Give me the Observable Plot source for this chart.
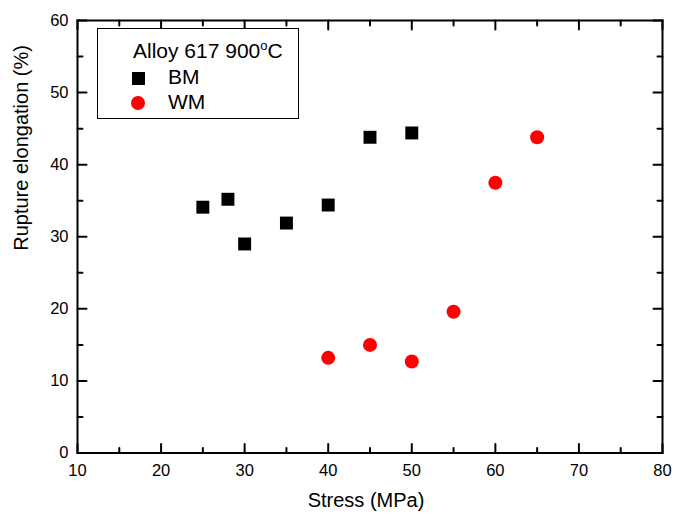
<!DOCTYPE html>
<html>
<head>
<meta charset="utf-8">
<script src="https://cdn.jsdelivr.net/npm/d3@7"></script>
<script src="https://cdn.jsdelivr.net/npm/@observablehq/plot@0.6"></script>
<style>
  body { margin: 0; background: #fff; }
  #wrap { position: relative; width: 681px; height: 514px; font-family: "Liberation Sans", Arial, sans-serif; }
  #legend { position: absolute; left: 97px; top: 28px; width: 202px; height: 91px; box-sizing: border-box; border: 1.5px solid #000; background: #fff; }
  #legend div { position: absolute; white-space: nowrap; line-height: 1; color: #000; }
</style>
</head>
<body>
<div id="wrap"></div>
<script>
const bmStress = [25, 28, 30, 35, 40, 45, 50];
const bmElong = [34.1, 35.2, 29.0, 31.9, 34.4, 43.8, 44.4];
const wmStress = [40, 45, 50, 55, 60, 65];
const wmElong = [13.2, 15.0, 12.7, 19.6, 37.5, 43.8];
const xMajor = [10, 20, 30, 40, 50, 60, 70, 80];
const xMinor = [15, 25, 35, 45, 55, 65, 75];
const yMajor = [0, 10, 20, 30, 40, 50, 60];
const yMinor = [5, 15, 25, 35, 45, 55];
const xLabel = ["Stress (MPa)"];
const yLabel = ["Rupture elongation (%)"];
const legendTitle = "Alloy 617 900";
const seriesNames = ["BM", "WM"];

const bm = bmStress.map((s, i) => ({stress: s, elong: bmElong[i]}));
const wm = wmStress.map((s, i) => ({stress: s, elong: wmElong[i]}));

const lineShape = {draw(context, l) { context.moveTo(0, 0); context.lineTo(0, -l); }};
const tickStyle = {stroke: "#000", strokeWidth: 2, anchor: "start", shape: lineShape};

const chart = Plot.plot({
  width: 681,
  height: 514,
  marginLeft: 77,
  marginRight: 19,
  marginTop: 20,
  marginBottom: 61.5,
  style: {fontFamily: "Liberation Sans, Arial, sans-serif", background: "#fff", color: "#000"},
  x: {domain: [10, 80]},
  y: {domain: [0, 60]},
  marks: [
    Plot.axisX({ticks: xMajor, tickSize: 0, tickPadding: 11, fontSize: 16.5, label: null}),
    Plot.axisY({ticks: yMajor, tickSize: 0, tickPadding: 9, fontSize: 16.5, label: null}),
    Plot.text(xLabel, {text: d => d, frameAnchor: "bottom", dx: -4, dy: 47.8, lineAnchor: "middle", fontSize: 20, fill: "#000"}),
    Plot.text(yLabel, {text: d => d, frameAnchor: "left", dx: -56.4, dy: 14, rotate: -90, lineAnchor: "middle", fontSize: 20, fill: "#000"}),
    Plot.vector(xMajor, {x: d => d, frameAnchor: "bottom", length: 9, rotate: 0, ...tickStyle}),
    Plot.vector(xMinor, {x: d => d, frameAnchor: "bottom", length: 5, rotate: 0, ...tickStyle}),
    Plot.vector(xMajor, {x: d => d, frameAnchor: "top", length: 9, rotate: 180, ...tickStyle}),
    Plot.vector(xMinor, {x: d => d, frameAnchor: "top", length: 5, rotate: 180, ...tickStyle}),
    Plot.vector(yMajor, {y: d => d, frameAnchor: "left", length: 9, rotate: 90, ...tickStyle}),
    Plot.vector(yMinor, {y: d => d, frameAnchor: "left", length: 5, rotate: 90, ...tickStyle}),
    Plot.vector(yMajor, {y: d => d, frameAnchor: "right", length: 9, rotate: -90, ...tickStyle}),
    Plot.vector(yMinor, {y: d => d, frameAnchor: "right", length: 5, rotate: -90, ...tickStyle}),
    Plot.frame({stroke: "#000", strokeWidth: 2}),
    Plot.dot(bm, {x: "stress", y: "elong", symbol: "square", r: 7.3, fill: "#000", stroke: "none"}),
    Plot.dot(wm, {x: "stress", y: "elong", symbol: "circle", r: 7, fill: "#ff0000", stroke: "none"})
  ]
});

const wrap = document.getElementById("wrap");
wrap.appendChild(chart);

const legend = document.createElement("div");
legend.id = "legend";
legend.innerHTML = `
  <div style="left:35px; top:10px; font-size:21px;">${legendTitle}<span style="font-size:13px; vertical-align:8px;">o</span>C</div>
  <div style="left:33.5px; top:42.5px; width:13px; height:13px; background:#000;"></div>
  <div style="left:70px; top:37px; font-size:21px;">${seriesNames[0]}</div>
  <div style="left:32.5px; top:66.5px; width:14px; height:14px; border-radius:50%; background:#ff0000;"></div>
  <div style="left:70px; top:62px; font-size:21px;">${seriesNames[1]}</div>
`;
wrap.appendChild(legend);
</script>
</body>
</html>
